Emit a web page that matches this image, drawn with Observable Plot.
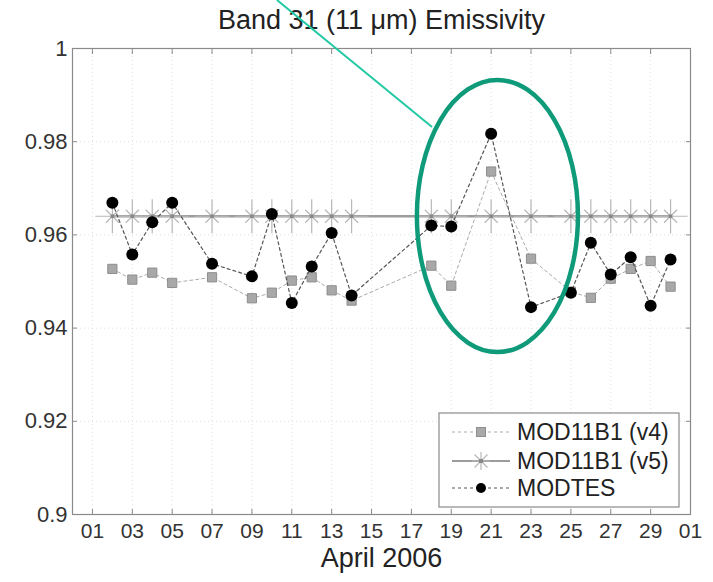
<!DOCTYPE html>
<html><head><meta charset="utf-8">
<script src="https://cdn.jsdelivr.net/npm/d3@7"></script>
<script src="https://cdn.jsdelivr.net/npm/@observablehq/plot@0.6"></script>
<style>body{margin:0;background:#fff} svg{display:block}</style>
</head><body><div id="chart"></div>
<script>
// ---- data (April 2006 day of month) ----
const days = [2,3,4,5,7,9,10,11,12,13,14,18,19,21,23,25,26,27,28,29,30];
const v4Values = [0.9527,0.9504,0.9519,0.9497,0.9509,0.9464,0.9476,0.9502,0.9509,0.9481,0.9459,0.9534,0.9491,0.9736,0.9549,0.9478,0.9465,0.9506,0.9527,0.9544,0.9489];
const v5Values = [0.964,0.964,0.964,0.964,0.964,0.964,0.964,0.964,0.964,0.964,0.964,0.964,0.964,0.964,0.964,0.964,0.964,0.964,0.964,0.964,0.964];
const modtesValues = [0.9669,0.9558,0.9627,0.9669,0.9538,0.9511,0.9645,0.9454,0.9532,0.9604,0.9470,0.9620,0.9618,0.9817,0.9445,0.9476,0.9583,0.9515,0.9552,0.9448,0.9547];
const xTickDays = [1,3,5,7,9,11,13,15,17,19,21,23,25,27,29,31]; // 31 -> May 1
const yTicks = [0.9,0.92,0.94,0.96,0.98,1];
const seriesNames = ["MOD11B1 (v4)","MOD11B1 (v5)","MODTES"];
const title = "Band 31 (11 \u03bcm) Emissivity";
const xLabel = "April 2006";
// annotation (data coordinates: day of April, emissivity)
const ellipse = {cx: 21.34, cy: 0.96395, rxDays: 4.04, ry: 0.0292};
const pointer = {from: [10.28, 1.0103], to: [18.06, 0.98305]};

const day = d => new Date(Date.UTC(2006, 3, 1) + (d - 1) * 864e5);
const mk = vals => days.map((d, i) => ({date: day(d), value: vals[i]}));
const v4 = mk(v4Values), v5 = mk(v5Values), modtes = mk(modtesValues);
const xTicks = xTickDays.map(day);

const font = "Liberation Sans, Arial, sans-serif";
const W = 713, H = 582, mL = 72, mR = 23, mT = 48, mB = 68;

const plot = Plot.plot({
  width: W, height: H,
  marginLeft: mL, marginRight: mR, marginTop: mT, marginBottom: mB,
  style: {fontFamily: font, background: "#fff", overflow: "visible"},
  x: {type: "utc", domain: [day(0), day(31)]},
  y: {domain: [0.9, 1]},
  marks: [
    Plot.gridX(xTicks, {stroke: "#bbb", strokeOpacity: 0.45, strokeDasharray: "1,3"}),
    Plot.gridY(yTicks, {stroke: "#bbb", strokeOpacity: 0.45, strokeDasharray: "1,3"}),
    Plot.frame({stroke: "#8a8a8a", strokeWidth: 1.2}),
    Plot.axisX(xTicks, {anchor: "bottom", tickSize: -5, tickPadding: 14, tickFormat: d3.utcFormat("%d"), fontSize: 21, fill: "#333", stroke: "#8a8a8a", label: null}),
    Plot.axisX(xTicks, {anchor: "top", tickSize: -5, tickFormat: () => "", stroke: "#8a8a8a", label: null}),
    Plot.axisY(yTicks, {anchor: "left", tickSize: -5, tickPadding: 10, tickFormat: d3.format("~g"), fontSize: 22, fill: "#333", stroke: "#8a8a8a", label: null}),
    Plot.axisY(yTicks, {anchor: "right", tickSize: -5, tickFormat: () => "", stroke: "#8a8a8a", label: null}),
    // v4
    Plot.line(v4, {x: "date", y: "value", stroke: "#aaa", strokeWidth: 1, strokeDasharray: "3,3"}),
    Plot.dot(v4, {x: "date", y: "value", symbol: "square", r: 5.2, fill: "#a8a8a8", stroke: "#8e8e8e", strokeWidth: 1}),
    // v5
    Plot.line(v5, {x: "date", y: "value", stroke: "#9c9c9c", strokeWidth: 2.6}),
    Plot.dot(v5, {x: "date", y: "value", symbol: "plus", r: 11, stroke: "#b8b8b8", strokeWidth: 1.2}),
    Plot.dot(v5, {x: "date", y: "value", symbol: "times", r: 6, stroke: "#b8b8b8", strokeWidth: 1.2}),
    Plot.dot(v5, {x: "date", y: "value", symbol: "square", r: 2, fill: "#888", stroke: "none"}),
    // MODTES
    Plot.line(modtes, {x: "date", y: "value", stroke: "#555", strokeWidth: 1.2, strokeDasharray: "3,3"}),
    Plot.dot(modtes, {x: "date", y: "value", r: 6, fill: "#000", stroke: "none"}),
    // title and x label
    Plot.text([title], {text: d => d, frameAnchor: "top", lineAnchor: "bottom", dy: -20, fontSize: 27, fill: "#222"}),
    Plot.text([xLabel], {text: d => d, frameAnchor: "bottom", lineAnchor: "top", dy: 33, fontSize: 27, fill: "#222"})
  ]
});

const svg = d3.select(plot);
const xs = plot.scale("x"), ys = plot.scale("y");
const X = d => xs.apply(day(d)), Y = v => ys.apply(v);

// legend
const lg = svg.append("g").attr("font-family", font).attr("text-anchor", "start");
lg.append("rect").attr("x", 439).attr("y", 413).attr("width", 240).attr("height", 94)
  .attr("fill", "#fff").attr("stroke", "#8a8a8a").attr("stroke-width", 1.2);
const rowsY = [432, 461, 488];
const lx0 = 452, lx1 = 510, lm = 481;
// row 1
lg.append("line").attr("x1", lx0).attr("x2", lx1).attr("y1", rowsY[0]).attr("y2", rowsY[0]).attr("stroke", "#aaa").attr("stroke-dasharray", "3,3");
lg.append("rect").attr("x", lm - 4.5).attr("y", rowsY[0] - 4.5).attr("width", 9).attr("height", 9).attr("fill", "#a8a8a8").attr("stroke", "#8e8e8e");
// row 2
lg.append("line").attr("x1", lx0).attr("x2", lx1).attr("y1", rowsY[1]).attr("y2", rowsY[1]).attr("stroke", "#9c9c9c").attr("stroke-width", 2);
lg.append("path").attr("d", `M${lm},${rowsY[1]-9}V${rowsY[1]+9}M${lm-9},${rowsY[1]}H${lm+9}M${lm-6.5},${rowsY[1]-6.5}L${lm+6.5},${rowsY[1]+6.5}M${lm-6.5},${rowsY[1]+6.5}L${lm+6.5},${rowsY[1]-6.5}`).attr("stroke", "#b8b8b8").attr("stroke-width", 1.2).attr("fill", "none");
lg.append("rect").attr("x", lm - 2).attr("y", rowsY[1] - 2).attr("width", 4).attr("height", 4).attr("fill", "#888");
// row 3
lg.append("line").attr("x1", lx0).attr("x2", lx1).attr("y1", rowsY[2]).attr("y2", rowsY[2]).attr("stroke", "#555").attr("stroke-dasharray", "3,3");
lg.append("circle").attr("cx", lm).attr("cy", rowsY[2]).attr("r", 5).attr("fill", "#000");
seriesNames.forEach((n, i) => {
  lg.append("text").attr("x", 517).attr("y", rowsY[i]).attr("dy", "0.36em").attr("font-size", 23).attr("fill", "#222").text(n);
});

// annotation
const cx = X(ellipse.cx), cy = Y(ellipse.cy);
const rx = X(ellipse.cx + ellipse.rxDays) - cx, ry = Y(ellipse.cy - ellipse.ry) - cy;
svg.append("line")
  .attr("x1", X(pointer.from[0])).attr("y1", Y(pointer.from[1]))
  .attr("x2", X(pointer.to[0])).attr("y2", Y(pointer.to[1]))
  .attr("stroke", "#22c9a4").attr("stroke-width", 2);
svg.append("ellipse").attr("cx", cx).attr("cy", cy).attr("rx", rx).attr("ry", ry)
  .attr("fill", "none").attr("stroke", "#0f9b79").attr("stroke-width", 4.5);

document.getElementById("chart").appendChild(plot);
</script>
</body></html>
